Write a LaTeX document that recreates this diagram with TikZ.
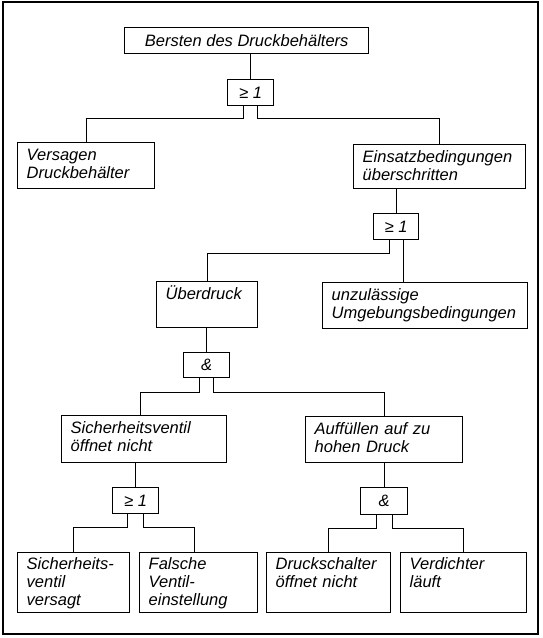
\documentclass[tikz,border=0pt]{standalone}
\usepackage{fontspec}
\setmainfont{Liberation Sans}
\usetikzlibrary{positioning}
\tikzset{
	event/.style={draw, anchor=north west, align=left, inner xsep=9pt, inner ysep=6pt, text height=12pt},
	gate/.style={draw, anchor=north west, inner sep=0pt, minimum width=46pt, minimum height=26pt}
}

\begin{document}
\begin{tikzpicture}[x=1pt, y=-1pt, line width=1.4pt, font=\fontsize{16.5}{18}\selectfont\itshape]
			%%%%% START %%%%%
			\useasboundingbox (0, 0) rectangle (542, 638);
			\draw (3, 2) rectangle (538, 634);
			
			\node[draw, anchor=north west, minimum width=244pt, minimum height=26pt, inner sep=0pt] (bersten) at (124, 27) {Bersten des Druckbehälters};
			\node[gate] (or1) at (227, 79) {≥ 1};
			
			\node[event, text width=119pt, text depth=22pt] (versagen) at (17, 142) {Versagen\\Druckbehälter};
			\node[event, text width=154pt, text depth=20pt] (einsatz) at (353, 144) {Einsatzbedingungen\\überschritten};
			\node[gate, minimum width=45pt] (or2) at (373, 213) {≥ 1};
			
			\node[event, text width=83pt, text depth=22pt] (ueberdruck) at (156, 281) {Überdruck};
			\node[event, text width=187pt, text depth=22pt] (umgebung) at (322, 282) {unzulässige\\Umgebungsbedingungen};
			\node[gate, minimum height=25pt] (and1) at (183, 352) {\&};
			
			\node[event, text width=147pt, text depth=23pt] (sventil) at (61, 415) {Sicherheitsventil\\öffnet nicht};
			\node[event, text width=139pt, text depth=22pt] (auffuellen) at (305, 416) {Auffüllen auf zu\\hohen Druck};
			\node[gate] (or3) at (112, 487) {≥ 1};
			\node[gate, minimum width=47pt, minimum height=27pt] (and2) at (360, 487) {\&};
			
			\node[event, text width=94pt, text depth=38pt, inner ysep=5pt] (versagt) at (17, 552) {Sicherheits-\\ventil\\versagt};
			\node[event, text width=100pt, text depth=38pt, inner ysep=5pt] (einstellung) at (139, 552) {Falsche\\Ventil-\\einstellung};
			\node[event, text width=106pt, text depth=38pt, inner ysep=5pt] (schalter) at (266, 552) {Druckschalter\\öffnet nicht};
			\node[event, text width=108pt, text depth=38pt, inner ysep=5pt] (verdichter) at (400, 552) {Verdichter\\läuft};
			
			% verbindungen
			\draw (or1.north) -- (or1.north |- bersten.south);
			\draw ([xshift=-7pt]or1.south) -- ++(0, 12) -| (versagen.north);
			\draw ([xshift=7pt]or1.south) -- ++(0, 12) -| (einsatz.north);
			
			\draw (or2.north) -- (or2.north |- einsatz.south);
			\draw ([xshift=-7pt]or2.south) -- ++(0, 13) -| (ueberdruck.north);
			\draw ([xshift=7pt]or2.south) -- ([xshift=7pt]or2.south |- umgebung.north);
			
			\draw (and1.north) -- (and1.north |- ueberdruck.south);
			\draw ([xshift=-7pt]and1.south) -- ++(0, 14) -| ([xshift=-4pt]sventil.north);
			\draw ([xshift=7pt]and1.south) -- ++(0, 14) -| (auffuellen.north);
			
			\draw (or3.north) -- (or3.north |- sventil.south);
			\draw ([xshift=-8pt]or3.south) -- ++(0, 13) -| (versagt.north);
			\draw ([xshift=8pt]or3.south) -- ++(0, 13) -| ([xshift=-4pt]einstellung.north);
			
			\draw (and2.north) -- (and2.north |- auffuellen.south);
			\draw ([xshift=-8pt]and2.south) -- ++(0, 13) -| (schalter.north);
			\draw ([xshift=8pt]and2.south) -- ++(0, 13) -| (verdichter.north);
			%%%%% END %%%%%
\end{tikzpicture}
\end{document}
